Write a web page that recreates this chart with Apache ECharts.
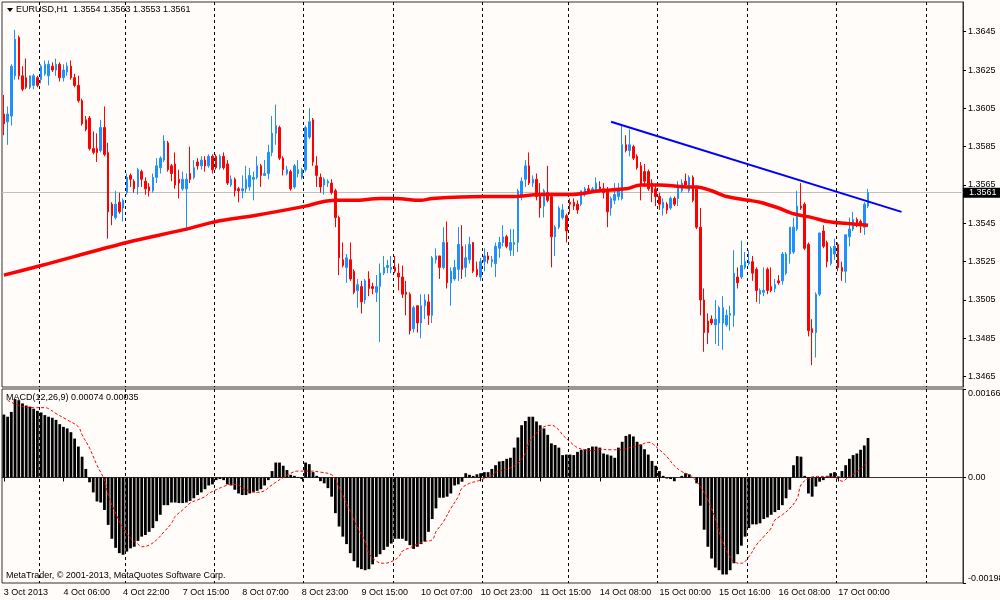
<!DOCTYPE html>
<html>
<head>
<meta charset="utf-8">
<script src="https://cdn.jsdelivr.net/npm/echarts@6/dist/echarts.min.js"></script>
<style>
  html, body { margin: 0; padding: 0; background: #fffcfa; }
  #chart { width: 1000px; height: 600px; }
</style>
</head>
<body>
<div id="chart"></div>
<script>
const FONT = 'Liberation Sans'

const symbolHeader = 'EURUSD,H1  1.3554 1.3563 1.3553 1.3561'
const macdHeader = 'MACD(12,26,9) 0.00074 0.00035'
const copyright = 'MetaTrader, © 2001-2013, MetaQuotes Software Corp.'
const lastPrice = 1.3561

// one label every 16 hourly bars
const tickLabels = ['3 Oct 2013', '4 Oct 06:00', '4 Oct 22:00', '7 Oct 15:00', '8 Oct 07:00',
  '8 Oct 23:00', '9 Oct 15:00', '10 Oct 07:00', '10 Oct 23:00', '11 Oct 15:00',
  '14 Oct 08:00', '15 Oct 00:00', '15 Oct 16:00', '16 Oct 08:00', '17 Oct 00:00']
// bars that open a new day (dotted separators)
const dayStarts = [10, 33, 57, 81, 105, 129, 152, 176, 200, 224, 248]
const barSlots = 258

const priceTicks = [1.3465, 1.3485, 1.3505, 1.3525, 1.3545, 1.3565, 1.3585, 1.3605, 1.3625, 1.3645]
const macdTicks = [-0.00198, 0, 0.00166]

const opens = [
  1.3602, 1.3598, 1.3601, 1.3622, 1.3642, 1.3622, 1.3621, 1.3616, 1.3617, 1.3621,
  1.3620, 1.3623, 1.3622, 1.3627, 1.3625, 1.3628, 1.3621, 1.3624, 1.3627, 1.3621,
  1.3617, 1.3609, 1.3599, 1.3600, 1.3584, 1.3584, 1.3583, 1.3595, 1.3582, 1.3555,
  1.3548, 1.3556, 1.3553, 1.3561, 1.3570, 1.3567, 1.3564, 1.3572, 1.3567, 1.3564,
  1.3562, 1.3569, 1.3574, 1.3578, 1.3587, 1.3575, 1.3576, 1.3568, 1.3563, 1.3563,
  1.3571, 1.3569, 1.3577, 1.3575, 1.3578, 1.3575, 1.3580, 1.3580, 1.3574, 1.3580,
  1.3576, 1.3565, 1.3568, 1.3563, 1.3562, 1.3563, 1.3564, 1.3568, 1.3569, 1.3575,
  1.3570, 1.3571, 1.3582, 1.3592, 1.3595, 1.3579, 1.3571, 1.3572, 1.3564, 1.3571,
  1.3569, 1.3573, 1.3590, 1.3599, 1.3575, 1.3569, 1.3565, 1.3566, 1.3566, 1.3562,
  1.3548, 1.3526, 1.3522, 1.3526, 1.3520, 1.3510, 1.3512, 1.3505, 1.3516, 1.3512,
  1.3509, 1.3512, 1.3519, 1.3522, 1.3521, 1.3522, 1.3519, 1.3517, 1.3509, 1.3508,
  1.3490, 1.3502, 1.3493, 1.3502, 1.3504, 1.3497, 1.3526, 1.3528, 1.3522, 1.3535,
  1.3514, 1.3516, 1.3521, 1.3533, 1.3522, 1.3526, 1.3535, 1.3521, 1.3517, 1.3525,
  1.3528, 1.3525, 1.3524, 1.3532, 1.3535, 1.3538, 1.3531, 1.3534, 1.3535, 1.3559,
  1.3568, 1.3575, 1.3566, 1.3568, 1.3560, 1.3554, 1.3561, 1.3559, 1.3538, 1.3543,
  1.3548, 1.3549, 1.3556, 1.3556, 1.3555, 1.3555, 1.3560, 1.3563, 1.3562, 1.3562,
  1.3564, 1.3563, 1.3562, 1.3553, 1.3557, 1.3559, 1.3558, 1.3586, 1.3583, 1.3585,
  1.3580, 1.3575, 1.3572, 1.3572, 1.3566, 1.3563, 1.3559, 1.3553, 1.3555, 1.3553,
  1.3558, 1.3558, 1.3562, 1.3567, 1.3562, 1.3569, 1.3563, 1.3543, 1.3505, 1.3494,
  1.3495, 1.3492, 1.3493, 1.3493, 1.3492, 1.3497, 1.3497, 1.3517, 1.3517, 1.3522,
  1.3524, 1.3525, 1.3521, 1.3508, 1.3509, 1.3521, 1.3512, 1.3511, 1.3515, 1.3515,
  1.3519, 1.3529, 1.3530, 1.3542, 1.3554, 1.3555, 1.3534, 1.3490, 1.3488, 1.3508,
  1.3541, 1.3535, 1.3524, 1.3529, 1.3534, 1.3522, 1.3520, 1.3538, 1.3542, 1.3547,
  1.3546, 1.3543, 1.3554
]
const highs = [
  1.3612, 1.3606, 1.3628, 1.3646, 1.3643, 1.3627, 1.3631, 1.3622, 1.3623, 1.3622,
  1.3628, 1.3630, 1.3630, 1.3629, 1.3631, 1.3629, 1.3628, 1.3629, 1.3630, 1.3623,
  1.3622, 1.3610, 1.3601, 1.3601, 1.3593, 1.3592, 1.3599, 1.3606, 1.3587, 1.3556,
  1.3562, 1.3561, 1.3558, 1.3571, 1.3571, 1.3568, 1.3574, 1.3573, 1.3569, 1.3566,
  1.3571, 1.3579, 1.3580, 1.3591, 1.3588, 1.3576, 1.3582, 1.3573, 1.3572, 1.3571,
  1.3585, 1.3578, 1.3579, 1.3580, 1.3580, 1.3581, 1.3581, 1.3581, 1.3581, 1.3582,
  1.3578, 1.3570, 1.3569, 1.3564, 1.3570, 1.3575, 1.3574, 1.3572, 1.3580, 1.3576,
  1.3578, 1.3586, 1.3601, 1.3607, 1.3596, 1.3580, 1.3575, 1.3573, 1.3576, 1.3578,
  1.3574, 1.3596, 1.3605, 1.3600, 1.3580, 1.3571, 1.3569, 1.3568, 1.3568, 1.3563,
  1.3549, 1.3535, 1.3529, 1.3535, 1.3521, 1.3516, 1.3515, 1.3516, 1.3520, 1.3514,
  1.3518, 1.3524, 1.3528, 1.3526, 1.3528, 1.3528, 1.3524, 1.3523, 1.3515, 1.3509,
  1.3502, 1.3502, 1.3508, 1.3508, 1.3508, 1.3528, 1.3532, 1.3528, 1.3543, 1.3546,
  1.3522, 1.3526, 1.3543, 1.3544, 1.3534, 1.3538, 1.3535, 1.3525, 1.3527, 1.3532,
  1.3530, 1.3528, 1.3535, 1.3538, 1.3544, 1.3539, 1.3542, 1.3542, 1.3563, 1.3569,
  1.3578, 1.3582, 1.3570, 1.3571, 1.3566, 1.3563, 1.3575, 1.3560, 1.3544, 1.3554,
  1.3555, 1.3550, 1.3558, 1.3558, 1.3557, 1.3562, 1.3564, 1.3565, 1.3564, 1.3569,
  1.3567, 1.3566, 1.3564, 1.3559, 1.3566, 1.3566, 1.3596, 1.3591, 1.3594, 1.3586,
  1.3581, 1.3577, 1.3576, 1.3573, 1.3568, 1.3565, 1.3561, 1.3558, 1.3556, 1.3559,
  1.3559, 1.3567, 1.3568, 1.3571, 1.3570, 1.3570, 1.3564, 1.3553, 1.3511, 1.3498,
  1.3497, 1.3505, 1.3502, 1.3507, 1.3500, 1.3502, 1.3531, 1.3522, 1.3536, 1.3530,
  1.3531, 1.3528, 1.3522, 1.3511, 1.3522, 1.3522, 1.3522, 1.3516, 1.3518, 1.3530,
  1.3530, 1.3543, 1.3548, 1.3562, 1.3566, 1.3556, 1.3535, 1.3495, 1.3509, 1.3540,
  1.3544, 1.3536, 1.3533, 1.3537, 1.3535, 1.3525, 1.3539, 1.3548, 1.3551, 1.3548,
  1.3547, 1.3556, 1.3563
]
const lows = [
  1.3591, 1.3586, 1.3596, 1.3620, 1.3620, 1.3614, 1.3615, 1.3615, 1.3615, 1.3616,
  1.3618, 1.3622, 1.3617, 1.3624, 1.3622, 1.3619, 1.3619, 1.3622, 1.3620, 1.3616,
  1.3608, 1.3596, 1.3593, 1.3583, 1.3581, 1.3577, 1.3582, 1.3580, 1.3537, 1.3544,
  1.3547, 1.3550, 1.3546, 1.3560, 1.3564, 1.3561, 1.3560, 1.3564, 1.3560, 1.3559,
  1.3561, 1.3566, 1.3571, 1.3577, 1.3572, 1.3567, 1.3563, 1.3558, 1.3562, 1.3541,
  1.3566, 1.3568, 1.3573, 1.3573, 1.3572, 1.3574, 1.3571, 1.3573, 1.3573, 1.3573,
  1.3565, 1.3564, 1.3559, 1.3556, 1.3558, 1.3561, 1.3562, 1.3557, 1.3568, 1.3564,
  1.3570, 1.3568, 1.3580, 1.3586, 1.3578, 1.3570, 1.3570, 1.3562, 1.3563, 1.3569,
  1.3568, 1.3572, 1.3589, 1.3575, 1.3564, 1.3561, 1.3560, 1.3564, 1.3560, 1.3543,
  1.3518, 1.3522, 1.3514, 1.3515, 1.3508, 1.3501, 1.3498, 1.3503, 1.3507, 1.3508,
  1.3504, 1.3483, 1.3518, 1.3519, 1.3519, 1.3519, 1.3510, 1.3506, 1.3497, 1.3487,
  1.3488, 1.3488, 1.3485, 1.3495, 1.3492, 1.3493, 1.3524, 1.3516, 1.3521, 1.3511,
  1.3502, 1.3515, 1.3515, 1.3516, 1.3517, 1.3524, 1.3519, 1.3517, 1.3515, 1.3520,
  1.3524, 1.3522, 1.3517, 1.3527, 1.3533, 1.3532, 1.3528, 1.3528, 1.3530, 1.3557,
  1.3564, 1.3565, 1.3564, 1.3557, 1.3548, 1.3548, 1.3556, 1.3522, 1.3528, 1.3542,
  1.3547, 1.3535, 1.3550, 1.3552, 1.3550, 1.3554, 1.3559, 1.3561, 1.3561, 1.3561,
  1.3561, 1.3558, 1.3543, 1.3549, 1.3555, 1.3557, 1.3557, 1.3582, 1.3580, 1.3578,
  1.3573, 1.3557, 1.3564, 1.3562, 1.3556, 1.3554, 1.3552, 1.3549, 1.3550, 1.3552,
  1.3554, 1.3554, 1.3561, 1.3564, 1.3561, 1.3556, 1.3542, 1.3497, 1.3478, 1.3482,
  1.3492, 1.3482, 1.3481, 1.3479, 1.3491, 1.3489, 1.3491, 1.3511, 1.3516, 1.3521,
  1.3523, 1.3515, 1.3504, 1.3503, 1.3507, 1.3508, 1.3509, 1.3509, 1.3513, 1.3513,
  1.3518, 1.3524, 1.3529, 1.3541, 1.3552, 1.3531, 1.3486, 1.3471, 1.3475, 1.3507,
  1.3532, 1.3522, 1.3523, 1.3526, 1.3520, 1.3515, 1.3514, 1.3533, 1.3541, 1.3543,
  1.3540, 1.3539, 1.3553
]
const closes = [
  1.3597, 1.3602, 1.3627, 1.3641, 1.3622, 1.3615, 1.3616, 1.3622, 1.3622, 1.3617,
  1.3627, 1.3628, 1.3628, 1.3625, 1.3628, 1.3621, 1.3625, 1.3627, 1.3621, 1.3617,
  1.3609, 1.3597, 1.3594, 1.3584, 1.3582, 1.3582, 1.3595, 1.3581, 1.3551, 1.3549,
  1.3555, 1.3551, 1.3557, 1.3569, 1.3568, 1.3563, 1.3573, 1.3568, 1.3563, 1.3562,
  1.3569, 1.3575, 1.3579, 1.3588, 1.3573, 1.3571, 1.3565, 1.3566, 1.3568, 1.3568,
  1.3568, 1.3574, 1.3575, 1.3578, 1.3575, 1.3580, 1.3573, 1.3574, 1.3580, 1.3574,
  1.3566, 1.3568, 1.3562, 1.3562, 1.3563, 1.3568, 1.3570, 1.3569, 1.3575, 1.3570,
  1.3571, 1.3582, 1.3592, 1.3596, 1.3579, 1.3573, 1.3573, 1.3563, 1.3575, 1.3573,
  1.3573, 1.3595, 1.3598, 1.3577, 1.3570, 1.3564, 1.3568, 1.3567, 1.3561, 1.3548,
  1.3527, 1.3523, 1.3527, 1.3516, 1.3509, 1.3513, 1.3504, 1.3515, 1.3511, 1.3511,
  1.3512, 1.3519, 1.3522, 1.3523, 1.3522, 1.3520, 1.3517, 1.3508, 1.3508, 1.3489,
  1.3501, 1.3493, 1.3502, 1.3505, 1.3497, 1.3527, 1.3528, 1.3522, 1.3535, 1.3514,
  1.3520, 1.3522, 1.3534, 1.3521, 1.3527, 1.3534, 1.3520, 1.3518, 1.3525, 1.3528,
  1.3526, 1.3526, 1.3533, 1.3535, 1.3538, 1.3533, 1.3535, 1.3535, 1.3562, 1.3567,
  1.3575, 1.3566, 1.3568, 1.3559, 1.3553, 1.3562, 1.3557, 1.3538, 1.3543, 1.3553,
  1.3552, 1.3541, 1.3555, 1.3554, 1.3552, 1.3562, 1.3563, 1.3562, 1.3563, 1.3566,
  1.3562, 1.3561, 1.3551, 1.3558, 1.3560, 1.3562, 1.3586, 1.3583, 1.3586, 1.3579,
  1.3574, 1.3565, 1.3567, 1.3563, 1.3561, 1.3559, 1.3555, 1.3556, 1.3552, 1.3558,
  1.3555, 1.3564, 1.3566, 1.3565, 1.3569, 1.3557, 1.3543, 1.3505, 1.3488, 1.3488,
  1.3493, 1.3495, 1.3501, 1.3501, 1.3497, 1.3498, 1.3519, 1.3514, 1.3523, 1.3525,
  1.3525, 1.3519, 1.3510, 1.3510, 1.3510, 1.3510, 1.3510, 1.3513, 1.3514, 1.3529,
  1.3529, 1.3543, 1.3543, 1.3554, 1.3553, 1.3532, 1.3489, 1.3488, 1.3508, 1.3540,
  1.3533, 1.3525, 1.3532, 1.3533, 1.3522, 1.3520, 1.3539, 1.3542, 1.3547, 1.3545,
  1.3544, 1.3555, 1.3561
]

// moving average read at a few bars: [bar, price]
const maPoints = [
  [0, 1.3518], [10, 1.3523], [33, 1.3535], [49, 1.3542], [57, 1.3546], [67, 1.3549],
  [81, 1.3554], [85, 1.3556], [89, 1.3557], [94, 1.3557], [101, 1.3558], [105, 1.3558],
  [112, 1.3557], [115, 1.3558], [129, 1.3559], [137, 1.3559], [144, 1.3560], [152, 1.3560],
  [160, 1.3562], [167, 1.3563], [171, 1.3565], [176, 1.3565], [184, 1.3564], [186, 1.3564],
  [190, 1.3562], [194, 1.3559], [200, 1.3557], [203, 1.3556], [208, 1.3553], [212, 1.3550],
  [217, 1.3548], [221, 1.3546], [226, 1.3545], [232, 1.3544]
]
// hand drawn trend line
const trendPoints = [[163, 1.3598], [241, 1.3551]]

const macdHist = [
  0.00118, 0.00114, 0.00123, 0.00147, 0.00145, 0.00139, 0.00135, 0.00133, 0.00129, 0.00125,
  0.00122, 0.00117, 0.00114, 0.00112, 0.00108, 0.00100, 0.00095, 0.00092, 0.00085, 0.00073,
  0.00058, 0.00039, 0.00016, -0.00009, -0.00028, -0.00045, -0.00047, -0.00061, -0.00089, -0.00115,
  -0.00132, -0.00142, -0.00145, -0.00139, -0.00133, -0.00130, -0.00119, -0.00111, -0.00108, -0.00102,
  -0.00095, -0.00082, -0.00070, -0.00052, -0.00052, -0.00047, -0.00047, -0.00048, -0.00048, -0.00047,
  -0.00044, -0.00039, -0.00033, -0.00028, -0.00022, -0.00015, -0.00013, -0.00005, -0.00003, -0.00005,
  -0.00013, -0.00015, -0.00023, -0.00030, -0.00033, -0.00033, -0.00030, -0.00028, -0.00025, -0.00022,
  -0.00015, -0.00005, 0.00012, 0.00028, 0.00028, 0.00022, 0.00014, 0.00005, 0.00003, 0.00001,
  -0.00003, 0.00028, 0.00025, 0.00010, 0.00003, -0.00007, -0.00011, -0.00020, -0.00036, -0.00067,
  -0.00092, -0.00111, -0.00125, -0.00142, -0.00157, -0.00169, -0.00172, -0.00174, -0.00172, -0.00163,
  -0.00149, -0.00144, -0.00136, -0.00130, -0.00124, -0.00115, -0.00115, -0.00115, -0.00119, -0.00127,
  -0.00134, -0.00130, -0.00125, -0.00120, -0.00102, -0.00078, -0.00058, -0.00038, -0.00038, -0.00036,
  -0.00030, -0.00015, -0.00013, -0.00008, 0.00008, 0.00005, 0.00003, 0.00006, 0.00008, 0.00010,
  0.00010, 0.00016, 0.00023, 0.00030, 0.00031, 0.00035, 0.00037, 0.00056, 0.00075, 0.00098,
  0.00106, 0.00114, 0.00114, 0.00105, 0.00098, 0.00092, 0.00080, 0.00064, 0.00061, 0.00056,
  0.00042, 0.00043, 0.00043, 0.00042, 0.00048, 0.00052, 0.00053, 0.00055, 0.00058, 0.00058,
  0.00056, 0.00045, 0.00043, 0.00041, 0.00037, 0.00056, 0.00067, 0.00078, 0.00081, 0.00077,
  0.00067, 0.00062, 0.00053, 0.00043, 0.00031, 0.00022, 0.00012, 0.00003, -0.00002, -0.00003,
  -0.00007, 0.00000, 0.00003, 0.00008, 0.00006, 0.00000, -0.00011, -0.00053, -0.00098, -0.00130,
  -0.00152, -0.00169, -0.00174, -0.00182, -0.00182, -0.00174, -0.00161, -0.00144, -0.00128, -0.00111,
  -0.00095, -0.00088, -0.00088, -0.00086, -0.00078, -0.00075, -0.00070, -0.00065, -0.00061, -0.00052,
  -0.00039, -0.00023, 0.00023, 0.00040, 0.00039, 0.00003, -0.00030, -0.00036, -0.00017, -0.00008,
  -0.00005, 0.00003, 0.00008, 0.00010, 0.00002, 0.00012, 0.00023, 0.00035, 0.00042, 0.00045,
  0.00052, 0.00060, 0.00074
]
// signal line read at a few bars: [bar, value]
const macdSignal = [
  [1, 0.00145], [4, 0.00135], [8, 0.00131], [11, 0.00131], [12, 0.00129], [14, 0.00120],
  [17, 0.00108], [20, 0.00095], [21, 0.00080], [23, 0.00055], [25, 0.00023], [27, -0.00005],
  [28, -0.00033], [30, -0.00067], [32, -0.00095], [34, -0.00114], [36, -0.00125], [37, -0.00130],
  [39, -0.00127], [41, -0.00117], [43, -0.00102], [45, -0.00086], [46, -0.00073], [48, -0.00061],
  [50, -0.00048], [52, -0.00042], [54, -0.00036], [55, -0.00030], [57, -0.00023], [59, -0.00017],
  [61, -0.00013], [63, -0.00014], [64, -0.00020], [66, -0.00025], [68, -0.00028], [70, -0.00025],
  [71, -0.00019], [73, -0.00009], [75, 0.00000], [77, 0.00008], [79, 0.00012], [82, 0.00012],
  [85, 0.00010], [88, 0.00005], [89, -0.00005], [91, -0.00033], [93, -0.00064], [95, -0.00095],
  [97, -0.00120], [98, -0.00142], [100, -0.00157], [102, -0.00161], [104, -0.00158], [106, -0.00149],
  [107, -0.00138], [109, -0.00132], [111, -0.00125], [113, -0.00120], [115, -0.00117], [116, -0.00102],
  [118, -0.00083], [120, -0.00058], [122, -0.00036], [123, -0.00020], [125, -0.00011], [127, -0.00007],
  [129, -0.00002], [131, 0.00003], [132, 0.00010], [134, 0.00014], [136, 0.00018], [138, 0.00027],
  [140, 0.00045], [141, 0.00066], [143, 0.00083], [145, 0.00095], [147, 0.00098], [149, 0.00089],
  [150, 0.00080], [152, 0.00067], [154, 0.00056], [156, 0.00052], [158, 0.00050], [160, 0.00053],
  [163, 0.00052], [166, 0.00052], [168, 0.00056], [171, 0.00061], [173, 0.00066], [174, 0.00064],
  [176, 0.00052], [178, 0.00039], [180, 0.00022], [182, 0.00011], [184, 0.00005], [185, 0.00000],
  [187, -0.00017], [189, -0.00042], [191, -0.00077], [192, -0.00102], [194, -0.00136], [196, -0.00158],
  [198, -0.00161], [200, -0.00149], [202, -0.00127], [204, -0.00111], [206, -0.00095], [207, -0.00080],
  [209, -0.00070], [211, -0.00058], [213, -0.00039], [214, -0.00014], [216, -0.00002], [218, 0.00002],
  [220, 0.00002], [222, 0.00002], [224, -0.00003], [225, -0.00007], [227, 0.00002], [229, 0.00010],
  [231, 0.00023], [232, 0.00030]
]

const categories = Array.from({ length: barSlots }, (_, i) => String(i))
const candles = opens.map((o, i) => [o, closes[i], lows[i], highs[i]])
const isLabelBar = i => i % 16 === 0 && i / 16 < tickLabels.length
const isDayStart = i => dayStarts.indexOf(i) >= 0

const daySplit = {
  show: true,
  interval: isDayStart,
  lineStyle: { color: '#000', width: 1, type: [3, 3] }
}

const chart = echarts.init(document.getElementById('chart'))
chart.setOption({
  animation: false,
  backgroundColor: '#fffcfa',
  textStyle: { fontFamily: FONT },
  grid: [
    { left: 2, top: 2, width: 961, height: 385, outerBoundsMode: 'none', show: true, borderColor: '#333', borderWidth: 1 },
    { left: 2, top: 389, width: 961, height: 194, outerBoundsMode: 'none', show: true, borderColor: '#333', borderWidth: 1 }
  ],
  xAxis: [
    {
      type: 'category', gridIndex: 0, data: categories, boundaryGap: true,
      axisLine: { show: false }, axisTick: { show: false }, axisLabel: { show: false },
      splitLine: daySplit
    },
    {
      type: 'category', gridIndex: 1, data: categories, boundaryGap: true,
      axisLine: { show: true, lineStyle: { color: '#333' } },
      axisTick: { show: true, interval: isLabelBar, alignWithLabel: true, length: 4, lineStyle: { color: '#000' } },
      axisLabel: {
        interval: isLabelBar, align: 'left', margin: 5,
        fontSize: 9, fontFamily: FONT, color: '#000',
        formatter: v => tickLabels[Number(v) / 16]
      },
      splitLine: daySplit
    }
  ],
  yAxis: [
    {
      type: 'value', gridIndex: 0, position: 'right', min: 1.34596, max: 1.36605,
      axisLine: { show: true, lineStyle: { color: '#333' } },
      axisTick: { show: true, customValues: priceTicks, length: 3, lineStyle: { color: '#000' } },
      axisLabel: {
        customValues: priceTicks, margin: 5, fontSize: 9, fontFamily: FONT, color: '#000',
        formatter: v => v.toFixed(4)
      },
      splitLine: { show: false }
    },
    {
      type: 'value', gridIndex: 1, position: 'right', min: -0.00198, max: 0.00166,
      axisLine: { show: true, lineStyle: { color: '#333' } },
      axisTick: { show: true, customValues: macdTicks, length: 3, lineStyle: { color: '#000' } },
      axisLabel: {
        customValues: macdTicks, margin: 5, fontSize: 9, fontFamily: FONT, color: '#000',
        verticalAlignMaxLabel: 'top', verticalAlignMinLabel: 'bottom',
        formatter: v => (v === 0 ? '0.00' : v.toFixed(5))
      },
      splitLine: { show: false }
    }
  ],
  series: [
    {
      type: 'candlestick', xAxisIndex: 0, yAxisIndex: 0, data: candles,
      barWidth: 2, z: 3,
      itemStyle: {
        color: '#1e90ff', color0: '#ff0000',
        borderColor: '#1e90ff', borderColor0: '#ff0000', borderWidth: 1
      }
    },
    {
      type: 'line', xAxisIndex: 0, yAxisIndex: 0, data: maPoints, smooth: 0.3,
      showSymbol: false, z: 4, lineStyle: { color: '#ff0000', width: 3.5 },
      markLine: {
        silent: true, symbol: 'none', z: 1, precision: 4,
        lineStyle: { color: '#c0c0c0', width: 1, type: 'solid' },
        label: {
          position: 'end', distance: 0, formatter: lastPrice.toFixed(4),
          backgroundColor: '#000', color: '#fff', fontSize: 9, fontFamily: FONT,
          padding: [1, 4, 0, 6]
        },
        data: [{ yAxis: lastPrice }]
      }
    },
    {
      type: 'line', xAxisIndex: 0, yAxisIndex: 0, data: trendPoints,
      showSymbol: false, z: 5, lineStyle: { color: '#0000ff', width: 2 }
    },
    {
      type: 'bar', xAxisIndex: 1, yAxisIndex: 1, data: macdHist,
      barWidth: '75%', itemStyle: { color: '#000' }, z: 3
    },
    {
      type: 'line', xAxisIndex: 1, yAxisIndex: 1, data: macdSignal, smooth: 0.4,
      showSymbol: false, z: 4, lineStyle: { color: '#ff0000', width: 1, type: [3, 2] }
    }
  ],
  graphic: [
    { type: 'polygon', z: 100, shape: { points: [[7, 8], [13, 8], [10, 12]] }, style: { fill: '#000' } },
    { type: 'text', z: 100, left: 16, top: 5, style: { text: symbolHeader, font: '9px ' + FONT, fill: '#000' } },
    { type: 'text', z: 100, left: 6, top: 393, style: { text: macdHeader, font: '9px ' + FONT, fill: '#000' } },
    { type: 'text', z: 100, left: 6, top: 571, style: { text: copyright, font: '9px ' + FONT, fill: '#000' } }
  ]
})
</script>
</body>
</html>
